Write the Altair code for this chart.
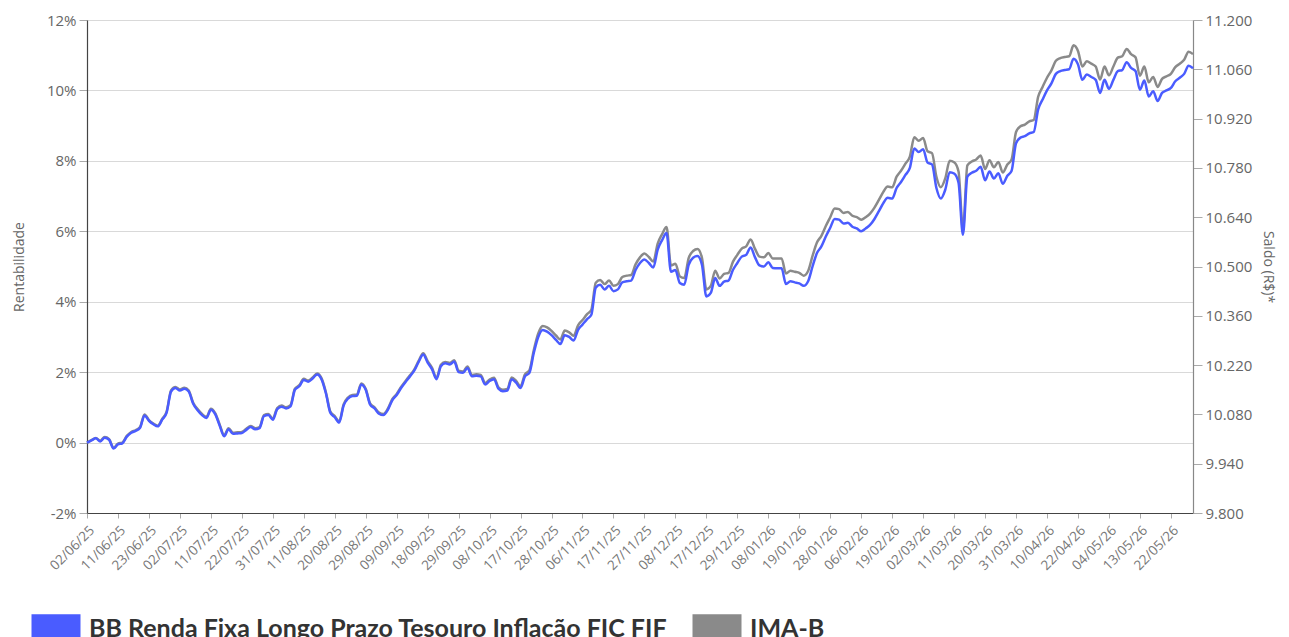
import altair as alt
import pandas as pd

# Trading days (ANBIMA calendar) shown on the x axis
feriados = ["2025-06-19", "2025-11-20", "2025-12-25", "2026-01-01", "2026-02-16",
            "2026-02-17", "2026-04-03", "2026-04-21", "2026-05-01"]
datas = [d.strftime("%d/%m/%y") for d in
         pd.bdate_range("2025-06-02", "2026-05-29", freq="C", holidays=feriados)]

serie_fundo = "BB Renda Fixa Longo Prazo Tesouro Inflação FIC FIF"
serie_indice = "IMA-B"

# Rentabilidade acumulada (%) - fundo
fundo = [
    0.00, 0.06, 0.12, 0.03, 0.14, 0.08, -0.17, -0.05, -0.02, 0.17,
    0.28, 0.33, 0.42, 0.77, 0.62, 0.52, 0.46, 0.65, 0.85, 1.45,
    1.55, 1.48, 1.53, 1.45, 1.10, 0.92, 0.78, 0.70, 0.93, 0.80,
    0.48, 0.18, 0.38, 0.25, 0.26, 0.27, 0.36, 0.44, 0.38, 0.41,
    0.75, 0.78, 0.65, 0.95, 1.02, 0.97, 1.03, 1.50, 1.60, 1.78,
    1.73, 1.82, 1.93, 1.80, 1.40, 0.85, 0.72, 0.57, 1.05, 1.25,
    1.32, 1.33, 1.65, 1.50, 1.08, 0.97, 0.82, 0.78, 0.93, 1.20,
    1.35, 1.55, 1.72, 1.88, 2.05, 2.30, 2.50, 2.27, 2.08, 1.80,
    2.17, 2.25, 2.22, 2.30, 2.00, 1.98, 2.12, 1.88, 1.90, 1.88,
    1.65, 1.75, 1.80, 1.53, 1.46, 1.48, 1.80, 1.70, 1.55, 1.88,
    1.98, 2.55, 3.00, 3.20, 3.15, 3.05, 2.92, 2.80, 3.05, 3.00,
    2.90, 3.20, 3.35, 3.50, 3.63, 4.40, 4.48, 4.35, 4.45, 4.30,
    4.35, 4.55, 4.58, 4.60, 4.90, 5.10, 5.20, 5.10, 4.97, 5.48,
    5.75, 5.95, 4.85, 4.90, 4.53, 4.48, 5.05, 5.25, 5.30, 5.05,
    4.15, 4.25, 4.67, 4.45, 4.57, 4.60, 4.90, 5.10, 5.28, 5.33,
    5.54, 5.26, 5.03, 5.00, 5.12, 4.96, 4.95, 4.95, 4.50, 4.58,
    4.55, 4.52, 4.45, 4.58, 5.00, 5.38, 5.57, 5.85, 6.10, 6.35,
    6.33, 6.22, 6.24, 6.13, 6.08, 6.00, 6.08, 6.18, 6.35, 6.57,
    6.80, 6.95, 6.93, 7.23, 7.40, 7.60, 7.80, 8.35, 8.25, 8.33,
    7.95, 7.90, 7.23, 6.93, 7.18, 7.68, 7.64, 7.38, 5.90, 7.55,
    7.66, 7.72, 7.83, 7.45, 7.70, 7.50, 7.65, 7.35, 7.57, 7.72,
    8.50, 8.66, 8.70, 8.78, 8.82, 9.46, 9.74, 10.00, 10.20, 10.47,
    10.55, 10.58, 10.60, 10.90, 10.74, 10.30, 10.45, 10.38, 10.30, 9.93,
    10.30, 10.05, 10.30, 10.55, 10.58, 10.80, 10.64, 10.55, 10.02, 10.28,
    9.83, 9.98, 9.70, 9.93, 10.00, 10.07, 10.26, 10.36, 10.47, 10.70,
    10.63,
]

# Rentabilidade acumulada (%) - IMA-B
imab = [
    0.00, 0.07, 0.13, 0.05, 0.16, 0.10, -0.15, -0.03, 0.00, 0.19,
    0.30, 0.35, 0.44, 0.80, 0.64, 0.54, 0.48, 0.67, 0.88, 1.48,
    1.58, 1.51, 1.56, 1.48, 1.13, 0.95, 0.81, 0.73, 0.96, 0.83,
    0.51, 0.21, 0.41, 0.28, 0.29, 0.30, 0.39, 0.47, 0.41, 0.44,
    0.78, 0.81, 0.68, 0.98, 1.05, 1.00, 1.06, 1.53, 1.63, 1.81,
    1.76, 1.85, 1.96, 1.83, 1.43, 0.88, 0.75, 0.60, 1.08, 1.28,
    1.35, 1.36, 1.68, 1.53, 1.11, 1.00, 0.85, 0.81, 0.96, 1.23,
    1.38, 1.58, 1.75, 1.91, 2.08, 2.33, 2.54, 2.31, 2.12, 1.84,
    2.21, 2.29, 2.26, 2.34, 2.04, 2.02, 2.16, 1.92, 1.94, 1.92,
    1.69, 1.79, 1.84, 1.57, 1.50, 1.52, 1.85, 1.75, 1.60, 1.94,
    2.05, 2.63, 3.10, 3.31, 3.27, 3.17, 3.04, 2.93, 3.18, 3.13,
    3.03, 3.33, 3.48, 3.64, 3.77, 4.54, 4.62, 4.50, 4.60, 4.45,
    4.50, 4.70, 4.74, 4.76, 5.06, 5.26, 5.37, 5.27, 5.14, 5.65,
    5.92, 6.12, 5.03, 5.08, 4.72, 4.67, 5.24, 5.44, 5.50, 5.25,
    4.35, 4.45, 4.88, 4.66, 4.79, 4.82, 5.13, 5.33, 5.51, 5.57,
    5.77, 5.50, 5.28, 5.26, 5.38, 5.23, 5.23, 5.23, 4.80, 4.88,
    4.85, 4.82, 4.74, 4.87, 5.30, 5.68, 5.87, 6.15, 6.40, 6.65,
    6.63, 6.52, 6.55, 6.44, 6.40, 6.33, 6.40, 6.50, 6.67, 6.89,
    7.12, 7.27, 7.25, 7.55, 7.72, 7.92, 8.12, 8.67, 8.57, 8.65,
    8.27, 8.22, 7.55, 7.25, 7.50, 8.00, 7.96, 7.70, 6.05, 7.87,
    7.98, 8.04, 8.15, 7.77, 8.02, 7.82, 7.97, 7.67, 7.89, 8.04,
    8.82, 8.98, 9.03, 9.12, 9.16, 9.82, 10.10, 10.36, 10.57, 10.84,
    10.92, 10.95, 10.97, 11.28, 11.12, 10.68, 10.83, 10.76, 10.68, 10.31,
    10.68, 10.43, 10.68, 10.93, 10.97, 11.18, 11.03, 10.94, 10.42, 10.68,
    10.23, 10.38, 10.10, 10.33, 10.40, 10.47, 10.66, 10.76, 10.87, 11.10,
    11.03,
]

eixo_rent = [-2, 0, 2, 4, 6, 8, 10, 12]
eixo_saldo = [9800, 9940, 10080, 10220, 10360, 10500, 10640, 10780, 10920, 11060, 11200]
rotulos_x = datas[::7]

cores = ["#4a5cff", "#8a8a8a"]
FONT = "Open Sans"

assert len(datas) == len(fundo) == len(imab), (len(datas), len(fundo), len(imab))

df = pd.DataFrame({
    "data": datas + datas,
    "valor": fundo + imab,
    "serie": [serie_fundo] * len(datas) + [serie_indice] * len(datas),
})

# Legend swatch: a stack of thin horizontal strokes that together form a solid block
simbolo = "".join(f"M-1,{k / 100:.2f}H1" for k in range(-56, 57, 4))

x_enc = alt.X(
    "data:N",
    scale=alt.Scale(type="point", domain=datas, padding=0),
    axis=alt.Axis(values=rotulos_x, labelAngle=-45, title=None, grid=False,
                  labelFontSize=13.5, labelColor="#777", tickSize=5, tickColor="#aaa",
                  domainColor="#444", domainWidth=1.2, labelPadding=5),
)
y_enc = alt.Y(
    "valor:Q",
    scale=alt.Scale(domain=[-2, 12], nice=False, zero=False),
    axis=alt.Axis(values=eixo_rent, labelExpr="datum.value + '%'", title="Rentabilidade",
                  grid=True, gridColor="#d9d9d9", domainColor="#444", domainWidth=1.2,
                  tickColor="#aaa", tickSize=8, labelPadding=3, labelFontSize=15,
                  labelColor="#666", titlePadding=20, titleFontSize=14),
)
legenda = alt.Legend(orient="none", legendX=-57, legendY=583, direction="horizontal",
                     title=None, symbolType=simbolo, symbolSize=2401, symbolOpacity=1,
                     labelFontSize=25, labelFontWeight="bold", labelColor="#333",
                     labelFont="Lato", labelOffset=7, columnPadding=19,
                     labelLimit=900, padding=0)
cor_enc = alt.Color("serie:N", scale=alt.Scale(domain=[serie_fundo, serie_indice], range=cores),
                    legend=legenda)

base = alt.Chart(df)
linha_indice = base.transform_filter(alt.datum.serie == serie_indice).mark_line(
    interpolate="monotone").encode(x=x_enc, y=y_enc, color=cor_enc)
linha_fundo = base.transform_filter(alt.datum.serie == serie_fundo).mark_line(
    interpolate="monotone").encode(x=x_enc, y=y_enc, color=cor_enc)

esquerda = alt.layer(linha_indice, linha_fundo)

direita = alt.Chart(pd.DataFrame({"saldo": [eixo_saldo[0], eixo_saldo[-1]]})).mark_rule(opacity=0).encode(
    y=alt.Y("saldo:Q", scale=alt.Scale(domain=[eixo_saldo[0], eixo_saldo[-1]], nice=False, zero=False),
            axis=alt.Axis(orient="right", values=eixo_saldo,
                          labelExpr="replace(format(datum.value, ','), ',', '.')",
                          title="Saldo (R$)*", titleAngle=90, grid=False, domainColor="#888",
                          domainWidth=1.2, tickColor="#aaa", tickSize=9, labelPadding=3,
                          labelFontSize=15, labelColor="#666", titlePadding=9, titleFontSize=14))
)

chart = alt.layer(esquerda, direita).resolve_scale(y="independent").properties(
    width=1106, height=493, autosize="none",
    padding={"left": 79, "top": 12, "right": 88, "bottom": 130},
).configure_view(stroke=None).configure_axis(
    labelFont=FONT, titleFont=FONT, titleColor="#666", titleFontWeight="normal"
).configure_line(strokeWidth=2.5)

chart.save("out.html", embed_options={"renderer": "svg", "actions": False})
